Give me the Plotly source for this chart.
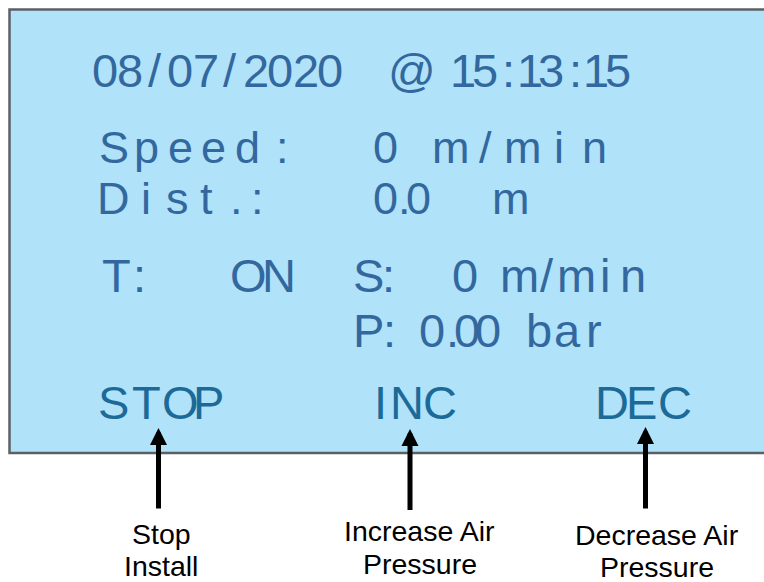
import plotly.graph_objects as go

# ---- data shown on the LCD ----
date_str = "08/07/2020"
time_str = "15:13:15"
speed = 0
distance = 0.0
t_state = "ON"
s_speed = 0
pressure = 0.00
speed_unit = "m/min"
dist_unit = "m"
pressure_unit = "bar"
buttons = ["STOP", "INC", "DEC"]
button_labels = [["Stop", "Install"], ["Increase Air", "Pressure"], ["Decrease Air", "Pressure"]]

W, H = 764, 582
LCD_BG = "#b0e2fa"
LCD_BORDER = "#5b6064"
INK = "#33689f"
INK_BTN = "#1c6a98"
LCD_FONT = "Liberation Sans, Arial, sans-serif"
LCD_SIZE = 47
LCD_SIZE_TIGHT = 45

# font metrics (per 1000 em): advance width and approximate ink width
_ADV = {":": 278, "/": 278, ".": 278, "@": 1015, "S": 667, "D": 722, "i": 222, "s": 500,
        "t": 278, "m": 833, "T": 611, "O": 778, "N": 722, "P": 667, "r": 333, "I": 278,
        "C": 722, "E": 667}
_INK = {":": 90, "/": 280, ".": 90, "@": 920, "S": 560, "D": 560, "i": 80, "s": 400,
        "t": 240, "m": 690, "T": 580, "O": 680, "N": 550, "P": 510, "r": 270, "I": 90,
        "C": 600, "E": 510}

annotations = []


def place(text, xs, y, color=INK, size=LCD_SIZE):
    """Place each glyph of text centred on the given x, with its box tightened to the ink."""
    if isinstance(xs, tuple):
        start, pitch = xs
        xs = [start + i * pitch for i in range(len(text))]
    for ch, x in zip(text, xs):
        if ch == " ":
            continue
        adv = _ADV.get(ch, 556) * size / 1000.0
        ink = _INK.get(ch, 450) * size / 1000.0
        ls = ink - adv
        annotations.append(dict(
            x=x, y=y, xref="x", yref="y",
            text=f'<span style="letter-spacing:{ls:.2f}px">{ch}</span>',
            showarrow=False, xanchor="center", yanchor="middle", borderpad=0,
            font=dict(family=LCD_FONT, size=size, color=color)))


# line 1: date @ time
place(date_str, (104.5, 25.05), 70.5)
place("@", [410], 70.5)
place(time_str, (462, 22.2), 70.5)

# line 2: speed
place("Speed:", (112.5, 33.5), 147, size=LCD_SIZE_TIGHT)
place(f"{speed}", [385], 147, size=LCD_SIZE_TIGHT)
place(speed_unit, (449, 36), 147, size=LCD_SIZE_TIGHT)

# line 3: distance
place("Dist.:", [112.5, 144, 176, 206.5, 234, 255], 198, size=LCD_SIZE_TIGHT)
place(f"{distance:.1f}", [385, 402, 418], 198, size=LCD_SIZE_TIGHT)
place(dist_unit, [509], 198, size=LCD_SIZE_TIGHT)

# line 4: T state and S speed
place("T:", [115.5, 137], 275)
place(t_state, [247.5, 277.5], 275)
place("S:", [367.5, 386.5], 275)
place(f"{s_speed}", [464.5], 275)
place(speed_unit, (518, 28.5), 275)

# line 5: pressure
place("P:", [367.5, 387], 330)
place(f"{pressure:.2f}", [431.5, 450, 466.5, 487.5], 330)
place(pressure_unit, [538.5, 567, 593], 330)

# line 6: buttons
btn_x = [[112.5, 146, 179, 207.5], [378, 405, 439.5], [611, 641, 674]]
for b, xs in zip(buttons, btn_x):
    place(b, xs, 402.5, color=INK_BTN)

# arrows and labels under the LCD
arrow_x = [158.5, 410, 645.5]
arrow_tip = [428, 429, 427]
arrow_tail = [510, 511.5, 510]
label_x = [161, 419.5, 656.5]
label_y = [[534, 566], [531, 564], [535, 567]]
for ax_, tip, tail, lx, lines, ly in zip(arrow_x, arrow_tip, arrow_tail, label_x, button_labels, label_y):
    annotations.append(dict(
        x=ax_, y=tip, xref="x", yref="y", ax=ax_, ay=tail, axref="x", ayref="y",
        text="", showarrow=True, arrowhead=2, arrowsize=0.68, arrowwidth=5,
        arrowcolor="#000000", standoff=0))
    for txt, yy in zip(lines, ly):
        annotations.append(dict(
            x=lx, y=yy, xref="x", yref="y", text=txt, showarrow=False,
            xanchor="center", yanchor="middle", borderpad=0,
            font=dict(family="Liberation Sans, Arial", size=28.5, color="#000000")))

fig = go.Figure()
fig.add_trace(go.Scatter(x=[], y=[], hoverinfo="skip", showlegend=False))
fig.update_layout(
    width=W, height=H,
    margin=dict(l=0, r=0, t=0, b=0),
    paper_bgcolor="white", plot_bgcolor="white",
    xaxis=dict(range=[0, W], visible=False, fixedrange=True),
    yaxis=dict(range=[H, 0], visible=False, fixedrange=True),
    shapes=[dict(type="rect", xref="x", yref="y", x0=9.5, y0=9.5, x1=780, y1=453,
                 fillcolor=LCD_BG, line=dict(color=LCD_BORDER, width=2.5), layer="below")],
    annotations=annotations,
    showlegend=False,
)
fig.write_html(
    "out.html",
    config={"displayModeBar": False},
    post_script="document.body.style.margin='0';document.body.style.overflow='hidden';",
)
